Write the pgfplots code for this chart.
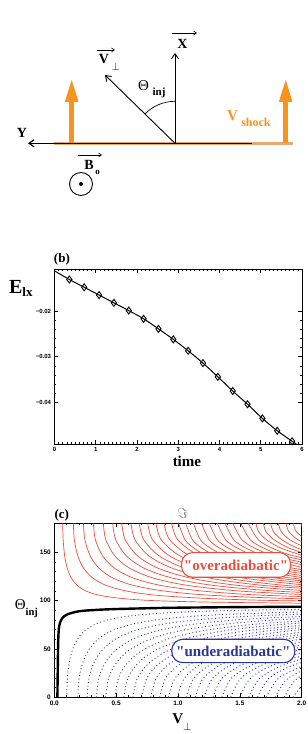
\documentclass[border=0pt]{standalone}
\usepackage{pgfplots}
\pgfplotsset{compat=1.18}
\usetikzlibrary{arrows.meta}
\usepackage{fontspec}
\setmainfont{Liberation Serif}
\newfontfamily\qfont{Liberation Serif}
\newfontfamily\tickfont{Liberation Sans}
\definecolor{shockorange}{RGB}{247,148,30}
\definecolor{linetan}{RGB}{228,170,110}
\definecolor{contred}{RGB}{232,80,60}
\definecolor{contblue}{RGB}{55,55,165}
\definecolor{boxblue}{RGB}{40,55,150}
\tikzset{
  redc/.style={contred, line width=0.7pt, smooth},
  bluec/.style={contblue, line width=0.95pt, dash pattern=on 0.95pt off 2.6pt, smooth},
}
\begin{document}
\begin{tikzpicture}
\path[use as bounding box] (0pt,0pt) rectangle (308pt,734pt);

% ---------------- panel (a): schematic ----------------
\begin{axis}[at={(0pt,494pt)},anchor=south west,width=308pt,height=240pt,scale only axis,
  xmin=0,xmax=308,ymin=0,ymax=240,y dir=reverse,axis lines=none,clip=false]
\draw[linetan, line width=3pt] (axis cs:54,143.3) -- (axis cs:293,143.3);
\draw[black, line width=1.2pt, -{Straight Barb[length=5pt,width=7pt]}] (axis cs:252,143.3) -- (axis cs:28,143.3);
\draw[shockorange, line width=5pt, -{Triangle[length=24pt,width=12pt]}] (axis cs:71.7,143) -- (axis cs:71.7,78);
\draw[shockorange, line width=5pt, -{Triangle[length=24pt,width=12pt]}] (axis cs:285.7,143) -- (axis cs:285.7,78);
\draw[black, line width=0.9pt, -{Straight Barb[length=5pt,width=7pt]}] (axis cs:175,143.3) -- (axis cs:175,53);
\draw[black, line width=0.9pt, -{Straight Barb[length=5pt,width=7pt]}] (axis cs:175,143.3) -- (axis cs:105,75);
\draw[black, line width=0.7pt] (axis cs:175,101.3) arc[start angle=90,end angle=135.7,radius=42pt];
% over-arrows
\draw[black, line width=0.6pt, -{Straight Barb[length=3pt,width=4pt]}] (axis cs:172,33) -- (axis cs:197,33);
\draw[black, line width=0.6pt, -{Straight Barb[length=3pt,width=4pt]}] (axis cs:97,50) -- (axis cs:115,50);
\draw[black, line width=0.6pt, -{Straight Barb[length=3pt,width=4pt]}] (axis cs:78,155) -- (axis cs:102,155);
% B0 symbol
\draw[black, line width=0.9pt] (axis cs:81,184) circle[radius=11.5pt];
\fill[black] (axis cs:81,184) circle[radius=2pt];
% labels
\node[font=\bfseries\fontsize{14}{14}\selectfont] at (axis cs:22,133) {Y};
\node[font=\bfseries\fontsize{14}{14}\selectfont] at (axis cs:182.5,44) {X};
\node[font=\bfseries\fontsize{14}{14}\selectfont] at (axis cs:104,59) {V};
\node[font=\fontsize{11}{11}\selectfont] at (axis cs:116,67) {$\perp$};
\node[font=\fontsize{15}{15}\selectfont] at (axis cs:143.5,86) {Θ};
\node[font=\bfseries\fontsize{11}{11}\selectfont] at (axis cs:159,93) {inj};
\node[shockorange, font=\bfseries\fontsize{15}{15}\selectfont] at (axis cs:232.5,116) {V};
\node[shockorange, font=\bfseries\fontsize{12}{12}\selectfont] at (axis cs:256,122) {shock};
\node[font=\bfseries\fontsize{14}{14}\selectfont] at (axis cs:89,164.5) {B};
\node[font=\bfseries\fontsize{9}{9}\selectfont] at (axis cs:97.5,172) {o};
\end{axis}

% ---------------- panel (b) ----------------
\begin{axis}[at={(54.5pt,290pt)},anchor=south west,width=247.5pt,height=175pt,scale only axis,
  xmin=0,xmax=6,ymin=-0.0491,ymax=-0.0108,
  scaled y ticks=false, scaled x ticks=false,
  xtick={0,1,2,3,4,5,6}, xticklabels={0,1,2,3,4,5,6},
  ytick={-0.04,-0.03,-0.02}, yticklabels={−0.04,−0.03,−0.02},
  minor x tick num=9, minor y tick num=4,
  tick align=inside, major tick length=4pt, minor tick length=2pt,
  tick style={black,line width=0.6pt},
  axis line style={line width=0.9pt},
  tick label style={font=\tickfont\bfseries\fontsize{6}{6}\selectfont},
  clip mode=individual]
\addplot[black, line width=1pt, smooth] coordinates {
(0,-0.0112)(0.36,-0.0131)(0.72,-0.0148)(1.08,-0.0165)(1.44,-0.0182)(1.80,-0.0199)
(2.16,-0.0217)(2.52,-0.0239)(2.88,-0.0262)(3.24,-0.0287)(3.60,-0.0314)(3.96,-0.0344)
(4.32,-0.0375)(4.68,-0.0404)(5.04,-0.0435)(5.40,-0.0462)(5.76,-0.0485)(6.0,-0.0500)};
\addplot[only marks, mark=diamond, mark size=3.5pt, mark options={solid, draw=black, fill=none, line width=0.9pt}] coordinates {
(0.36,-0.0131)(0.72,-0.0148)(1.08,-0.0165)(1.44,-0.0182)(1.80,-0.0199)
(2.16,-0.0217)(2.52,-0.0239)(2.88,-0.0262)(3.24,-0.0287)(3.60,-0.0314)(3.96,-0.0344)
(4.32,-0.0375)(4.68,-0.0404)(5.04,-0.0435)(5.40,-0.0462)(5.76,-0.0485)};
\node[font=\bfseries\fontsize{13}{13}\selectfont] at (axis description cs:0.030,1.057) {(b)};
\node[font=\bfseries\fontsize{20}{20}\selectfont] at (axis description cs:-0.136,0.891) {E\raisebox{-3pt}{\fontsize{13}{13}\selectfont lx}};
\node[font=\bfseries\fontsize{15}{15}\selectfont] at (axis description cs:0.535,-0.100) {time};
\end{axis}

% ---------------- panel (c) ----------------
\begin{axis}[at={(54.3pt,36.7pt)},anchor=south west,width=247.4pt,height=174pt,scale only axis,
  xmin=0,xmax=2,ymin=0,ymax=180,
  scaled y ticks=false, scaled x ticks=false,
  xtick={0,0.5,1,1.5,2}, xticklabels={0.0,0.5,1.0,1.5,2.0},
  ytick={0,50,100,150}, yticklabels={0,50,100,150},
  minor x tick num=4, minor y tick num=4,
  tick align=inside, major tick length=4pt, minor tick length=2pt,
  tick style={black,line width=0.6pt},
  axis line style={line width=1.1pt},
  tick label style={font=\tickfont\bfseries\fontsize{6.5}{6.5}\selectfont},
  clip mode=individual]
% underadiabatic dotted contours
\addplot[bluec] coordinates {(0.100,0)(0.1059,20)(0.1199,35)(0.1438,48)(0.1859,60)(0.2464,69)(0.3376,76)(0.4638,81)(0.6675,85)(0.999,88)(1.497,90)(2.394,91.5)};
\addplot[bluec] coordinates {(0.190,0)(0.2011,20)(0.2279,35)(0.2733,48)(0.3532,60)(0.4682,69)(0.6414,76)(0.8812,81)(1.268,85)(1.898,88)(2.844,90)};
\addplot[bluec] coordinates {(0.265,0)(0.2805,20)(0.3178,35)(0.3811,48)(0.4926,60)(0.6530,69)(0.8946,76)(1.229,81)(1.769,85)(2.647,88)};
\addplot[bluec] coordinates {(0.340,0)(0.3599,20)(0.4078,35)(0.4890,48)(0.6320,60)(0.8379,69)(1.148,76)(1.577,81)(2.270,85)};
\addplot[bluec] coordinates {(0.415,0)(0.4393,20)(0.4977,35)(0.5969,48)(0.7714,60)(1.023,69)(1.401,76)(1.925,81)(2.770,85)};
\addplot[bluec] coordinates {(0.490,0)(0.5187,20)(0.5877,35)(0.7047,48)(0.9108,60)(1.208,69)(1.654,76)(2.273,81)};
\addplot[bluec] coordinates {(0.562,0)(0.5949,20)(0.6740,35)(0.8083,48)(1.045,60)(1.385,69)(1.897,76)(2.607,81)};
\addplot[bluec] coordinates {(0.635,0)(0.6722,20)(0.7616,35)(0.9133,48)(1.180,60)(1.565,69)(2.144,76)};
\addplot[bluec] coordinates {(0.707,0)(0.7484,20)(0.8479,35)(1.017,48)(1.314,60)(1.742,69)(2.387,76)};
\addplot[bluec] coordinates {(0.779,0)(0.8246,20)(0.9343,35)(1.120,48)(1.448,60)(1.920,69)(2.630,76)};
\addplot[bluec] coordinates {(0.851,0)(0.9009,20)(1.021,35)(1.224,48)(1.582,60)(2.097,69)};
\addplot[bluec] coordinates {(0.923,0)(0.9771,20)(1.107,35)(1.327,48)(1.716,60)(2.275,69)};
\addplot[bluec] coordinates {(0.995,0)(1.053,20)(1.193,35)(1.431,48)(1.849,60)(2.452,69)};
\addplot[bluec] coordinates {(1.067,0)(1.130,20)(1.280,35)(1.535,48)(1.983,60)(2.629,69)};
\addplot[bluec] coordinates {(1.139,0)(1.206,20)(1.366,35)(1.638,48)(2.117,60)};
\addplot[bluec] coordinates {(1.211,0)(1.282,20)(1.452,35)(1.742,48)(2.251,60)};
\addplot[bluec] coordinates {(1.283,0)(1.358,20)(1.539,35)(1.845,48)(2.385,60)};
\addplot[bluec] coordinates {(1.355,0)(1.434,20)(1.625,35)(1.949,48)(2.519,60)};
\addplot[bluec] coordinates {(1.427,0)(1.511,20)(1.711,35)(2.052,48)};
\addplot[bluec] coordinates {(1.499,0)(1.587,20)(1.798,35)(2.156,48)};
\addplot[bluec] coordinates {(1.571,0)(1.663,20)(1.884,35)(2.259,48)};
\addplot[bluec] coordinates {(1.643,0)(1.739,20)(1.970,35)(2.363,48)};
\addplot[bluec] coordinates {(1.715,0)(1.815,20)(2.057,35)};
\addplot[bluec] coordinates {(1.787,0)(1.892,20)(2.143,35)};
\addplot[bluec] coordinates {(1.859,0)(1.968,20)(2.230,35)};
\addplot[bluec] coordinates {(1.931,0)(2.044,20)};
% overadiabatic contours
\addplot[redc] coordinates {(0.068,180)(0.0715,163.1)(0.0840,146.2)(0.1047,133.5)(0.1372,123.4)(0.1848,115.8)(0.2577,109.9)(0.3631,105.6)(0.5426,102.3)(0.788,100.1)(1.238,98.5)(1.965,97.4)(2.883,96.77)};
\addplot[redc] coordinates {(0.154,180)(0.1619,163.1)(0.1903,146.2)(0.2372,133.5)(0.3108,123.4)(0.4184,115.8)(0.5837,109.9)(0.8224,105.6)(1.229,102.3)(1.785,100.1)(2.803,98.5)};
\addplot[redc] coordinates {(0.235,180)(0.2470,163.1)(0.2905,146.2)(0.3619,133.5)(0.4742,123.4)(0.6385,115.8)(0.8907,109.9)(1.255,105.6)(1.875,102.3)(2.724,100.1)};
\addplot[redc] coordinates {(0.316,180)(0.3321,163.1)(0.3906,146.2)(0.4866,133.5)(0.6377,123.4)(0.8586,115.8)(1.198,109.9)(1.687,105.6)(2.522,102.3)};
\addplot[redc] coordinates {(0.396,180)(0.4162,163.1)(0.4895,146.2)(0.6098,133.5)(0.7991,123.4)(1.076,115.8)(1.501,109.9)(2.115,105.6)};
\addplot[redc] coordinates {(0.472,180)(0.4961,163.1)(0.5834,146.2)(0.7269,133.5)(0.9525,123.4)(1.282,115.8)(1.789,109.9)(2.520,105.6)};
\addplot[redc] coordinates {(0.545,180)(0.5728,163.1)(0.6736,146.2)(0.8393,133.5)(1.100,123.4)(1.481,115.8)(2.066,109.9)};
\addplot[redc] coordinates {(0.620,180)(0.6516,163.1)(0.7663,146.2)(0.9548,133.5)(1.251,123.4)(1.685,115.8)(2.350,109.9)};
\addplot[redc] coordinates {(0.687,180)(0.7220,163.1)(0.8491,146.2)(1.058,133.5)(1.386,123.4)(1.867,115.8)(2.604,109.9)};
\addplot[redc] coordinates {(0.755,180)(0.7935,163.1)(0.9332,146.2)(1.163,133.5)(1.524,123.4)(2.051,115.8)};
\addplot[redc] coordinates {(0.822,180)(0.8639,163.1)(1.016,146.2)(1.266,133.5)(1.659,123.4)(2.233,115.8)};
\addplot[redc] coordinates {(0.887,180)(0.9322,163.1)(1.096,146.2)(1.366,133.5)(1.790,123.4)(2.410,115.8)};
\addplot[redc] coordinates {(0.949,180)(0.9974,163.1)(1.173,146.2)(1.461,133.5)(1.915,123.4)(2.578,115.8)};
\addplot[redc] coordinates {(1.005,180)(1.056,163.1)(1.128,154.5)(1.242,146.2)(1.548,133.5)(2.028,123.4)};
\addplot[redc] coordinates {(1.062,180)(1.116,163.1)(1.192,154.5)(1.313,146.2)(1.635,133.5)(2.143,123.4)};
\addplot[redc] coordinates {(1.124,180)(1.181,163.1)(1.261,154.5)(1.389,146.2)(1.731,133.5)(2.268,123.4)};
\addplot[redc] coordinates {(1.190,180)(1.251,163.1)(1.335,154.5)(1.471,146.2)(1.833,133.5)(2.401,123.4)};
\addplot[redc] coordinates {(1.253,180)(1.317,163.1)(1.406,154.5)(1.549,146.2)(1.930,133.5)(2.529,123.4)};
\addplot[redc] coordinates {(1.318,180)(1.385,163.1)(1.479,154.5)(1.629,146.2)(2.030,133.5)};
\addplot[redc] coordinates {(1.380,180)(1.450,163.1)(1.548,154.5)(1.706,146.2)(2.125,133.5)};
\addplot[redc] coordinates {(1.442,180)(1.516,163.1)(1.618,154.5)(1.782,146.2)(2.221,133.5)};
\addplot[redc] coordinates {(1.507,180)(1.584,163.1)(1.691,154.5)(1.863,146.2)(2.321,133.5)};
\addplot[redc] coordinates {(1.568,180)(1.648,163.1)(1.759,154.5)(1.938,146.2)(2.415,133.5)};
\addplot[redc] coordinates {(1.631,180)(1.651,171.5)(1.714,163.1)(1.830,154.5)(2.016,146.2)};
\addplot[redc] coordinates {(1.690,180)(1.711,171.5)(1.776,163.1)(1.896,154.5)(2.089,146.2)};
\addplot[redc] coordinates {(1.749,180)(1.771,171.5)(1.838,163.1)(1.962,154.5)(2.162,146.2)};
\addplot[redc] coordinates {(1.811,180)(1.834,171.5)(1.903,163.1)(2.032,154.5)};
\addplot[redc] coordinates {(1.873,180)(1.896,171.5)(1.968,163.1)(2.101,154.5)};
\addplot[redc] coordinates {(1.932,180)(1.956,171.5)(2.031,163.1)};
\addplot[redc] coordinates {(1.992,180)(2.017,171.5)};
% separatrix
\addplot[black, line width=2.4pt, smooth] coordinates {(0.025,0)(0.028,30)(0.032,60)(0.040,74)(0.060,81)(0.100,85.5)(0.200,89)(0.350,90.5)(0.500,91.3)(0.750,92.1)(1.000,92.7)(1.500,93.3)(2.000,93.7)};
% boxes
\node[draw=contred, fill=white, rounded corners=11pt, line width=1.1pt, text=contred,
  font=\qfont\bfseries\fontsize{15}{15}\selectfont, minimum width=109pt, minimum height=24.6pt, inner sep=1pt]
  at (axis cs:1.469,136.9) {"overadiabatic"};
\node[draw=boxblue, fill=white, rounded corners=11pt, line width=1.1pt, text=boxblue,
  font=\qfont\bfseries\fontsize{15}{15}\selectfont, minimum width=123pt, minimum height=23.4pt, inner sep=1pt]
  at (axis cs:1.447,47.9) {"underadiabatic"};
% labels
\node[font=\bfseries\fontsize{13}{13}\selectfont] at (axis description cs:0.030,1.048) {(c)};
\node[text=black!55, font=\fontsize{14}{14}\selectfont] at (axis description cs:0.519,1.059) {$\Im$};
\node[font=\fontsize{15}{15}\selectfont] at (axis description cs:-0.113,0.509) {Θ\raisebox{-6pt}{\bfseries\fontsize{10.5}{10.5}\selectfont inj}};
\node[anchor=base, font=\bfseries\fontsize{15}{15}\selectfont] at (axis description cs:0.516,-0.148) {V\raisebox{-7pt}{\mdseries\fontsize{11}{11}\selectfont$\perp$}};
\end{axis}
\end{tikzpicture}
\end{document}
